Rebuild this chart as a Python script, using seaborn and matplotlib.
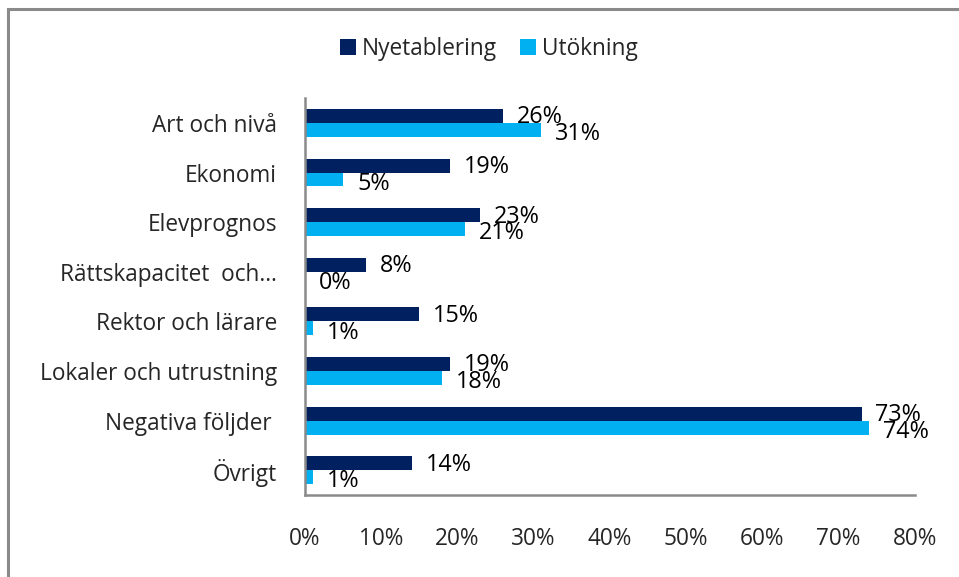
import matplotlib
matplotlib.use('Agg')
import matplotlib.pyplot as plt
from matplotlib.lines import Line2D
from matplotlib.patches import Rectangle
import seaborn as sns
import pandas as pd
import numpy as np

categories = ['Art och nivå', 'Ekonomi', 'Elevprognos', 'Rättskapacitet  och…',
              'Rektor och lärare', 'Lokaler och utrustning', 'Negativa följder ', 'Övrigt']
nyetablering = [26, 19, 23, 8, 15, 19, 73, 14]
utokning = [31, 5, 21, 0, 1, 18, 74, 1]
series = ['Nyetablering', 'Utökning']
colors = ['#002060', '#00B0F0']
x_ticks = [0, 10, 20, 30, 40, 50, 60, 70, 80]

df = pd.DataFrame({
    'Kategori': categories * 2,
    'Andel': nyetablering + utokning,
    'Typ': [series[0]] * len(categories) + [series[1]] * len(categories),
})

sns.set_style('white')
plt.rcParams['font.family'] = ['Open Sans', 'DejaVu Sans']
GRAY = '#8a8a8a'
FS = 16.3

fig = plt.figure(figsize=(9.59, 5.77), dpi=100)
ax = fig.add_axes([0.318, 0.142, 0.636, 0.688])

sns.barplot(data=df, y='Kategori', x='Andel', hue='Typ', order=categories,
            hue_order=series, palette=colors, saturation=1, orient='h', width=0.56,
            linewidth=0, legend=False, ax=ax)

# value labels
for cont, vals, dy in zip(ax.containers, [nyetablering, utokning], [-1, -3]):
    for bar, v in zip(cont, vals):
        y = bar.get_y() + bar.get_height() / 2
        ax.annotate(f'{v}%', xy=(bar.get_width(), y), xytext=(10, dy),
                    textcoords='offset points', va='center', ha='left',
                    fontsize=FS + 0.5, color='black')

ax.set_xlim(0, 80)
ax.set_ylim(len(categories) - 0.5, -0.5)
ax.set_xticks(x_ticks)
ax.set_xticklabels([f'{t}%' for t in x_ticks], fontsize=FS)
ax.set_yticks(range(len(categories)))
ax.set_yticklabels(categories, fontsize=FS)
ax.set_yticks(np.arange(-0.5, len(categories)), minor=True)
ax.tick_params(axis='y', which='major', length=0, pad=20)
ax.tick_params(axis='y', which='minor', length=6, width=1.8, color=GRAY, direction='out')
ax.tick_params(axis='x', length=6, width=1.8, color=GRAY, direction='out', pad=17)
ax.set_xlabel('')
ax.set_ylabel('')

for s in ['top', 'right']:
    ax.spines[s].set_visible(False)
for s in ['left', 'bottom']:
    ax.spines[s].set_color(GRAY)
    ax.spines[s].set_linewidth(1.8)

handles = [Line2D([], [], marker='s', linestyle='', markersize=11,
                  markerfacecolor=c, markeredgewidth=0) for c in colors]
fig.legend(handles, series, loc='center', bbox_to_anchor=(0.509, 0.915), ncol=2,
           frameon=False, fontsize=FS, handletextpad=0.2, columnspacing=1.0,
           handlelength=0.8)

# chart frame
fig.patches.append(Rectangle((0.0085, -0.05), 1.2, 1.034, transform=fig.transFigure,
                             fill=False, edgecolor=GRAY, linewidth=2.2))

fig.savefig('out.png', dpi=100)
